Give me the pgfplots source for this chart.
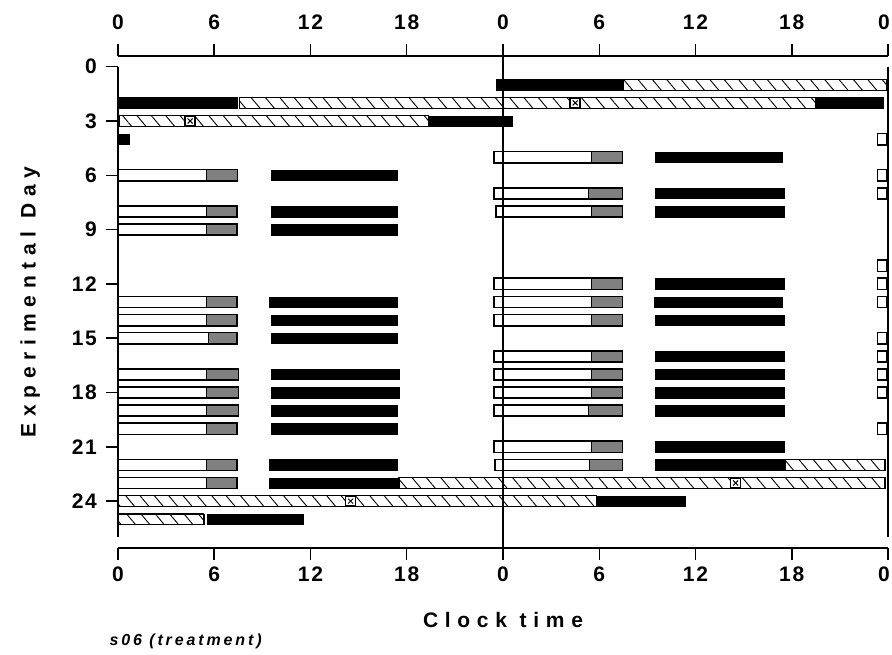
\documentclass[border=0pt]{standalone}
\usepackage{fontspec}
\setmainfont{Liberation Sans}
\usepackage{pgfplots}
\usepackage{pgfplotstable}
\pgfplotsset{compat=1.18}
\usetikzlibrary{patterns.meta}
\pgfdeclareplotmark{nothing}{}
\newcommand{\tickfont}{\fontsize{21}{21}\selectfont\bfseries\addfontfeature{LetterSpace=8}}
\newcommand{\labfont}{\fontsize{21}{21}\selectfont\bfseries\addfontfeature{LetterSpace=32}}
\newcommand{\notefont}{\fontsize{16}{16}\selectfont\bfseries\itshape\addfontfeature{LetterSpace=18}}

% black (activity) bars: start, end (h), row (day)
\pgfplotstableread{
x1 x2 y
23.6 31.5 1
0 7.4 2
43.45 47.7 2
19.35 24.6 3
0 0.7 4
33.5 41.4 5
9.55 17.4 6
33.5 41.5 7
9.55 17.4 8
33.5 41.5 8
9.55 17.4 9
33.5 41.5 12
9.45 17.4 13
33.4 41.4 13
9.55 17.4 14
33.5 41.5 14
9.55 17.4 15
33.5 41.5 16
9.55 17.55 17
33.5 41.5 17
9.55 17.55 18
33.5 41.5 18
9.55 17.4 19
33.5 41.5 19
9.55 17.4 20
33.5 41.5 21
9.45 17.4 22
33.5 41.6 22
9.45 17.5 23
29.8 35.35 24
5.57 11.55 25
}\blackbars

% open (sleep) bars with grey end: start, end, row, grey start
\pgfplotstableread{
x1 x2 y g
0 7.45 6 5.5
0 7.4 8 5.5
0 7.4 9 5.5
0 7.4 13 5.5
0 7.4 14 5.5
0 7.4 15 5.6
0 7.5 17 5.5
0 7.5 18 5.5
0 7.5 19 5.5
0 7.4 20 5.5
0 7.4 22 5.5
0 7.4 23 5.5
23.45 31.45 5 29.5
23.45 31.45 7 29.3
23.55 31.45 8 29.5
23.45 31.45 12 29.5
23.45 31.45 13 29.5
23.45 31.45 14 29.5
23.45 31.45 16 29.5
23.45 31.45 17 29.5
23.45 31.45 18 29.5
23.45 31.45 19 29.3
23.45 31.45 21 29.5
23.5 31.45 22 29.4
}\openbars

% small open boxes at the right edge
\pgfplotstableread{
x1 x2 y
47.35 47.9 4
47.35 47.9 6
47.35 47.9 7
47.35 47.9 11
47.35 47.9 12
47.35 47.9 13
47.35 47.9 15
47.35 47.9 16
47.35 47.9 17
47.35 47.9 18
47.35 47.9 20
}\boxes

% hatched bars
\pgfplotstableread{
x1 x2 y
31.5 47.9 1
7.56 43.45 2
0.1 19.35 3
41.6 47.8 22
17.5 47.8 23
0 29.8 24
0 5.36 25
}\hatched

\pgfplotsset{
  seg/.style n args={3}{only marks, mark=nothing, scatter,
    visualization depends on={\thisrow{x2}-\thisrow{#3} \as \seglen},
    scatter/@pre marker code/.code={\path[#1] (axis direction cs:0,-#2) rectangle (axis direction cs:\seglen,#2);},
    scatter/@post marker code/.code={}},
}

\begin{document}
\begin{tikzpicture}
\path[use as bounding box] (-118pt,-106pt) rectangle (774pt,548pt);
\begin{axis}[
  name=main,
  scale only axis, width=770pt, height=492pt,
  xmin=0, xmax=48, ymin=-0.59, ymax=26.59, y dir=reverse,
  clip=false,
  separate axis lines,
  x axis line style={line width=1.5pt},
  y axis line style={draw=none},
  xtick={0,6,...,48}, xticklabels={0,6,12,18,0,6,12,18,\kern-8pt 0},
  xtick pos=both,
  ytick={0,3,...,24}, ytick pos=left,
  tick align=outside, major tick length=12pt,
  tick style={line width=1.5pt, black},
  /pgf/number format/assume math mode=true,
  xticklabel style={font=\tickfont, inner sep=0pt, yshift=-7pt},
  yticklabel style={font=\tickfont, inner sep=0pt, xshift=-9pt},
  xlabel={Clock time},
  xlabel style={font=\labfont, at={(axis description cs:0.5,-0.146)}, anchor=center},
  ylabel={Experimental Day},
  ylabel style={font=\labfont, at={(axis description cs:-0.114,0.5)}, anchor=center},
]
\addplot[seg={fill=black}{0.29}{x1}] table[x=x1,y=y]{\blackbars};
\addplot[seg={fill=white, pattern={Lines[angle=-50, distance=11pt, line width=0.9pt]}, pattern color=black}{0.3}{x1}] table[x=x1,y=y]{\hatched};
\addplot[seg={draw=black, line width=1pt}{0.3}{x1}] table[x=x1,y=y]{\hatched};
\addplot[seg={fill=gray}{0.31}{g}] table[x=g,y=y]{\openbars};
\addplot[seg={draw=black, line width=1.6pt}{0.31}{x1}] table[x=x1,y=y]{\openbars};
\addplot[seg={draw=black, line width=1.6pt}{0.31}{x1}] table[x=x1,y=y]{\boxes};
\addplot[only marks, mark=square*, mark size=5pt, mark options={fill=white, draw=black, line width=1.4pt}] coordinates {(28.5,2) (4.5,3) (38.5,23) (14.5,24)};
\addplot[only marks, mark=x, mark size=3.5pt, mark options={line width=1pt, black}] coordinates {(28.5,2) (4.5,3) (38.5,23) (14.5,24)};
\draw[line width=1.5pt] (axis cs:0,0) -- (axis cs:0,26);
\draw[line width=1.5pt] (axis cs:48,0) -- (axis cs:48,26);
\draw[line width=1.5pt] (axis cs:24,-0.59) -- (axis cs:24,26.59);
\end{axis}
\begin{axis}[
  scale only axis, width=770pt, height=492pt,
  xmin=0, xmax=48, ymin=0, ymax=1,
  axis line style={draw=none}, ytick=\empty,
  xtick={0,6,...,48}, xticklabels={0,6,12,18,0,6,12,18,\kern-8pt 0},
  xtick pos=right, xticklabel pos=right, major tick length=0pt,
  xticklabel style={font=\tickfont, inner sep=0pt, yshift=26pt},
]
\end{axis}
\node[anchor=west, font=\notefont] at (-12pt,-93pt) {s06 (treatment)};
\end{tikzpicture}
\end{document}
